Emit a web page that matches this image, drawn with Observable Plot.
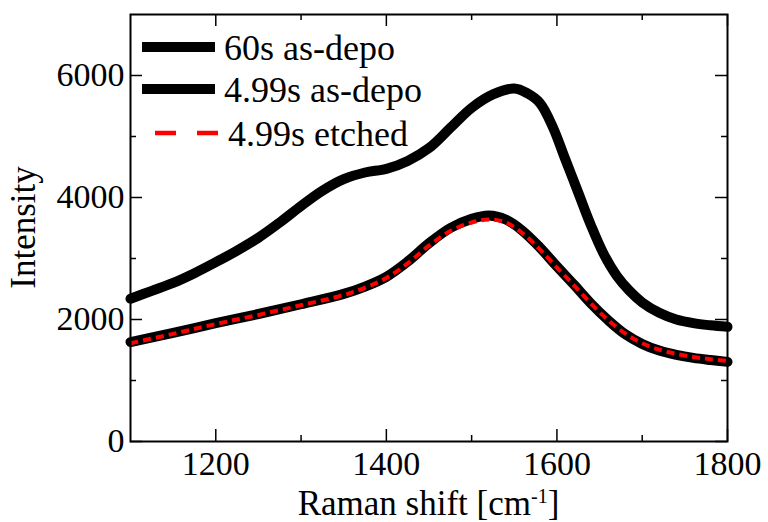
<!DOCTYPE html>
<html>
<head>
<meta charset="utf-8">
<script src="https://cdn.jsdelivr.net/npm/d3@7"></script>
<script src="https://cdn.jsdelivr.net/npm/@observablehq/plot@0.6"></script>
<style>
  html, body { margin: 0; padding: 0; background: #fff; }
  #chart { width: 768px; height: 522px; overflow: hidden; }
</style>
</head>
<body>
<div id="chart"></div>
<script>
// ---- data ----
const seriesNames = ["60s as-depo", "4.99s as-depo", "4.99s etched"];

const shift60 = [1100, 1125, 1150, 1175, 1200, 1225, 1250, 1275, 1300, 1325, 1350, 1375, 1400, 1425, 1450, 1475, 1500, 1525, 1550, 1565, 1580, 1595, 1610, 1625, 1640, 1655, 1670, 1685, 1700, 1720, 1740, 1760, 1780, 1800];
const intensity60 = [2340, 2470, 2600, 2760, 2940, 3130, 3340, 3590, 3860, 4110, 4300, 4410, 4470, 4600, 4810, 5140, 5470, 5690, 5785, 5710, 5550, 5160, 4620, 4080, 3540, 3070, 2720, 2470, 2280, 2110, 2000, 1940, 1905, 1880];

const shift499 = [1100, 1150, 1200, 1250, 1300, 1350, 1375, 1400, 1425, 1450, 1475, 1500, 1520, 1540, 1560, 1580, 1600, 1620, 1640, 1660, 1680, 1700, 1720, 1740, 1760, 1780, 1800];
const intensity499AsDepo = [1630, 1780, 1940, 2090, 2250, 2420, 2540, 2700, 2950, 3250, 3500, 3650, 3705, 3640, 3450, 3180, 2870, 2570, 2260, 1990, 1760, 1600, 1490, 1420, 1370, 1335, 1305];
const intensity499Etched = [1610, 1765, 1925, 2075, 2235, 2400, 2520, 2680, 2920, 3210, 3450, 3590, 3640, 3590, 3410, 3150, 2850, 2560, 2260, 1990, 1770, 1610, 1505, 1435, 1385, 1350, 1320];

const xMajorTicks = [1200, 1400, 1600, 1800];
const xMinorTicks = [1300, 1500, 1700];
const yMajorTicks = [0, 2000, 4000, 6000];
const yMinorTicks = [1000, 3000, 5000];
const xDomain = [1100, 1800];
const yDomain = [0, 7000];
const xTitle = "Raman shift [cm";
const xTitleSup = "-1";
const xTitleEnd = "]";
const yTitle = "Intensity";

// ---- build tables ----
const d60 = shift60.map((x, i) => ({x, y: intensity60[i]}));
const d499 = shift499.map((x, i) => ({x, y: intensity499AsDepo[i]}));
const d499e = shift499.map((x, i) => ({x, y: intensity499Etched[i]}));

const W = 768, H = 522, mL = 130, mR = 41, mT = 14, mB = 81;
const plotW = W - mL - mR, plotH = H - mT - mB;
const major = 12, minor = 6;
const FONT = "'Liberation Serif', 'Times New Roman', Times, serif";

const chart = Plot.plot({
  width: W, height: H,
  marginLeft: mL, marginRight: mR, marginTop: mT, marginBottom: mB,
  style: {fontFamily: FONT, background: "white", color: "black"},
  x: {domain: xDomain},
  y: {domain: yDomain},
  marks: [
    // curves
    Plot.line(d60, {x: "x", y: "y", stroke: "black", strokeWidth: 10, curve: "catmull-rom"}),
    Plot.line(d499, {x: "x", y: "y", stroke: "black", strokeWidth: 10, curve: "catmull-rom"}),
    Plot.line(d499e, {x: "x", y: "y", stroke: "#ff0000", strokeWidth: 4, strokeDasharray: "8,5", strokeLinecap: "butt", curve: "catmull-rom"}),
    // inward ticks: bottom / top
    Plot.ruleX(xMajorTicks, {x: d => d, insetTop: plotH - major, strokeWidth: 1.5}),
    Plot.ruleX(xMajorTicks, {x: d => d, insetBottom: plotH - major, strokeWidth: 1.5}),
    Plot.ruleX(xMinorTicks, {x: d => d, insetTop: plotH - minor, strokeWidth: 1.5}),
    Plot.ruleX(xMinorTicks, {x: d => d, insetBottom: plotH - minor, strokeWidth: 1.5}),
    // inward ticks: left / right
    Plot.ruleY(yMajorTicks, {y: d => d, insetRight: plotW - major, strokeWidth: 1.5}),
    Plot.ruleY(yMajorTicks, {y: d => d, insetLeft: plotW - major, strokeWidth: 1.5}),
    Plot.ruleY(yMinorTicks, {y: d => d, insetRight: plotW - minor, strokeWidth: 1.5}),
    Plot.ruleY(yMinorTicks, {y: d => d, insetLeft: plotW - minor, strokeWidth: 1.5}),
    // tick labels
    Plot.axisX(xMajorTicks, {anchor: "bottom", tickSize: 0, tickPadding: 9, fontSize: 34, label: null, tickFormat: d => String(d)}),
    Plot.axisY(yMajorTicks, {anchor: "left", tickSize: 0, tickPadding: 6, fontSize: 34, label: null, tickFormat: d => String(d)}),
    Plot.frame({stroke: "black", strokeWidth: 2})
  ]
});

document.getElementById("chart").appendChild(chart);

// ---- titles and legend ----
const svg = d3.select(chart);
const xt = svg.append("text")
  .attr("x", mL + plotW / 2).attr("y", 515)
  .attr("text-anchor", "middle")
  .attr("font-family", FONT).attr("font-size", 35).attr("fill", "black");
xt.append("tspan").text(xTitle);
xt.append("tspan").attr("font-size", 20).attr("dy", -12).text(xTitleSup);
xt.append("tspan").attr("dy", 12).text(xTitleEnd);

svg.append("text")
  .attr("transform", `translate(35, ${mT + plotH / 2}) rotate(-90)`)
  .attr("text-anchor", "middle")
  .attr("font-family", FONT).attr("font-size", 35).attr("fill", "black")
  .text(yTitle);

const legendRows = [
  {name: seriesNames[0], y: 47, stroke: "black", width: 10, dash: null, x1: 142, x2: 215, tx: 224},
  {name: seriesNames[1], y: 89, stroke: "black", width: 10, dash: null, x1: 142, x2: 215, tx: 224},
  {name: seriesNames[2], y: 133, stroke: "#ff0000", width: 4.5, dash: "21,21", x1: 155, x2: 218, tx: 228}
];
const lg = svg.append("g");
legendRows.forEach(r => {
  lg.append("line").attr("x1", r.x1).attr("x2", r.x2).attr("y1", r.y).attr("y2", r.y)
    .attr("stroke", r.stroke).attr("stroke-width", r.width)
    .attr("stroke-dasharray", r.dash);
  lg.append("text").attr("x", r.tx).attr("y", r.y + 13)
    .attr("text-anchor", "start")
    .attr("font-family", FONT).attr("font-size", 36).attr("fill", "black")
    .text(r.name);
});
</script>
</body>
</html>
